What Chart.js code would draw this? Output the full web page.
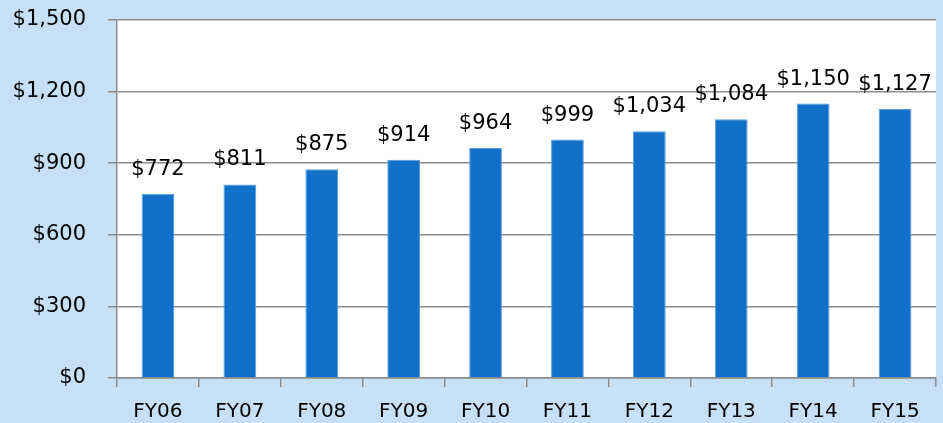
<!DOCTYPE html>
<html>
<head>
<meta charset="utf-8">
<script src="https://cdn.jsdelivr.net/npm/chart.js@4/dist/chart.umd.min.js"></script>
<style>
  html, body { margin: 0; padding: 0; background: #c6e0f8; }
  #wrap { width: 943px; height: 423px; }
</style>
</head>
<body>
<div id="wrap"><canvas id="chart" width="943" height="423"></canvas></div>
<script>
// Chart data
const years = ['FY06', 'FY07', 'FY08', 'FY09', 'FY10', 'FY11', 'FY12', 'FY13', 'FY14', 'FY15'];
const amounts = [772, 811, 875, 914, 964, 999, 1034, 1084, 1150, 1127];
const yTicks = [0, 300, 600, 900, 1200, 1500];

const FONT = 'DejaVu Sans';

function money(v) {
    return '$' + v.toLocaleString('en-US');
}

// white plot area
const plotBg = {
    id: 'plotBg',
    beforeDraw(chart) {
        const { ctx, chartArea: a } = chart;
        ctx.save();
        ctx.fillStyle = '#ffffff';
        ctx.fillRect(a.left, a.top, a.right - a.left, a.bottom - a.top);
        ctx.restore();
    }
};

// value labels above bars
const valueLabels = {
    id: 'valueLabels',
    afterDatasetsDraw(chart) {
        const { ctx } = chart;
        const meta = chart.getDatasetMeta(0);
        ctx.save();
        ctx.font = '21px "' + FONT + '"';
        ctx.fillStyle = '#000000';
        ctx.textAlign = 'center';
        ctx.textBaseline = 'alphabetic';
        meta.data.forEach((bar, i) => {
            ctx.fillText(money(amounts[i]), bar.x, bar.y - 19);
        });
        ctx.restore();
    }
};

new Chart(document.getElementById('chart'), {
    type: 'bar',
    data: {
        labels: years,
        datasets: [{
            data: amounts,
            backgroundColor: '#1170c8',
            borderColor: '#5a9ee0',
            borderWidth: 1,
            barPercentage: 0.4,
            categoryPercentage: 1
        }]
    },
    options: {
        responsive: false,
        animation: false,
        layout: { padding: { left: 0, right: 7, top: 20, bottom: 0 } },
        plugins: {
            legend: { display: false },
            tooltip: { enabled: false }
        },
        scales: {
            x: {
                grid: {
                    drawOnChartArea: false,
                    drawTicks: true,
                    tickLength: 9,
                    color: '#8c8c8c',
                    lineWidth: 1.5
                },
                border: { color: '#8c8c8c', width: 1.5 },
                ticks: {
                    color: '#000000',
                    font: { family: FONT, size: 20 },
                    padding: 13
                },
                afterFit(axis) {
                    axis.height = 45;
                    axis.paddingLeft = 0;
                    axis.paddingRight = 0;
                }
            },
            y: {
                min: 0,
                max: 1500,
                afterBuildTicks(axis) {
                    axis.ticks = yTicks.map(v => ({ value: v }));
                },
                grid: {
                    color: '#8c8c8c',
                    lineWidth: 1.5,
                    tickLength: 9
                },
                border: { color: '#8c8c8c', width: 1.5 },
                ticks: {
                    color: '#000000',
                    font: { family: FONT, size: 21 },
                    padding: 22,
                    callback: v => money(v)
                },
                afterFit(axis) {
                    axis.width = 117;
                    axis.paddingTop = 0;
                    axis.paddingBottom = 0;
                }
            }
        }
    },
    plugins: [plotBg, valueLabels]
});
</script>
</body>
</html>
